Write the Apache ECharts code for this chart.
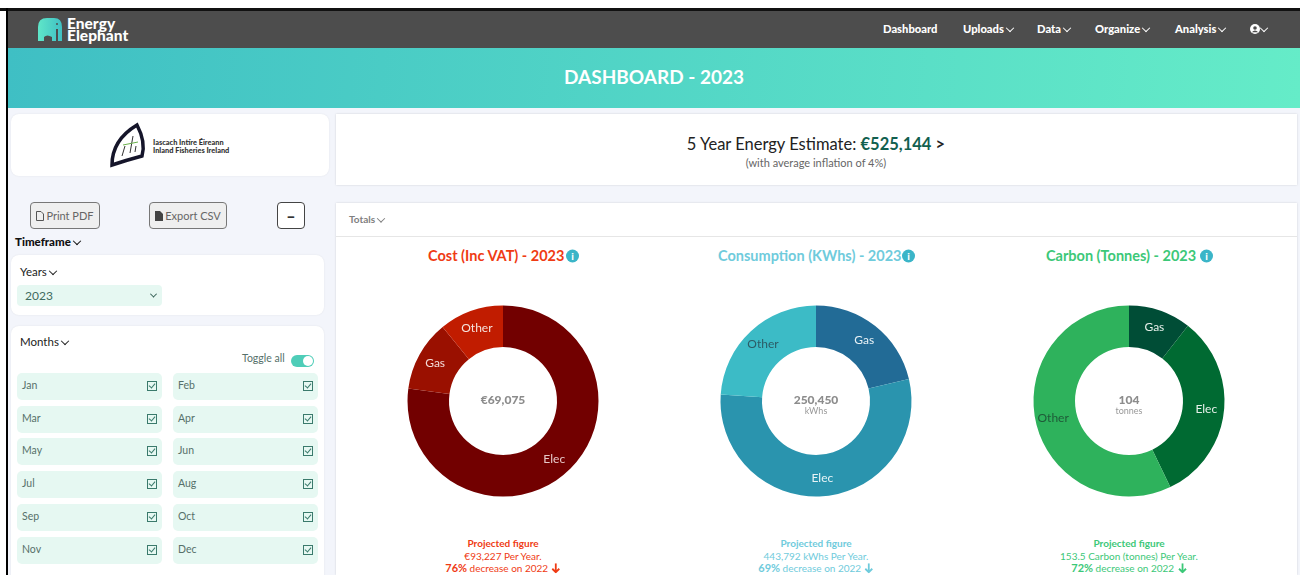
<!DOCTYPE html>
<html lang="en" style="height: 100%">
<head>
<meta charset="utf-8">
<style>
  html, body { margin: 0; height: 100%; background: #fff; overflow: hidden; font-family: Lato, "Noto Sans", sans-serif; }
  #page { position: absolute; left: 8px; top: 11px; width: 1292px; height: 564px; background: #f3f5fb; }
  .abs { position: absolute; }
  .t { position: absolute; white-space: nowrap; transform: translateY(calc(-50% - 1px)); }
  .c { position: absolute; white-space: nowrap; transform: translate(-50%, calc(-50% - 1px)); text-align: center; }
  .card { position: absolute; background: #fff; border-radius: 8px; box-shadow: 0 0 2px rgba(0,0,0,0.08); }
  .chev { display: inline-block; width: 5px; height: 5px; border-right: 1.5px solid currentColor; border-bottom: 1.5px solid currentColor; transform: rotate(45deg) translate(-1px, -1px); margin-left: 3px; }
  .btn { position: absolute; box-sizing: border-box; border: 1px solid #777; border-radius: 4px; background: #efefef; color: #666; font-size: 11px; display: flex; align-items: center; justify-content: center; gap: 2px; }
  .tile { position: absolute; width: 145px; height: 27px; background: #e6f8f2; border-radius: 5px; color: #56706a; font-size: 10.5px; }
  .tile span { position: absolute; left: 5px; top: 6px; }
  .tile i { position: absolute; left: 130px; top: 8px; width: 8px; height: 8px; border: 1.5px solid #3a7a6c; }
  .tile i::after { content: ""; position: absolute; left: 2px; top: 0px; width: 3px; height: 5px; border-right: 1.5px solid #3a7a6c; border-bottom: 1.5px solid #3a7a6c; transform: rotate(40deg); }
  .nav { color: #fff; font-size: 11.2px; font-weight: 900; top: 29px; }
  .info { position: absolute; width: 13px; height: 13px; border-radius: 50%; background: #3bb5c8; color: #fff; font-size: 10px; font-weight: 900; line-height: 13px; text-align: center; transform: translateY(-50%); }
  .h { font-size: 14.5px; font-weight: 700; top: 256px; }
  .p { font-size: 10px; line-height: 12.5px; }
  .arrow { vertical-align: -1px; margin-left: 1px; }
  #chart { position: absolute; left: 0; top: 0; width: 1300px; height: 575px; }
</style>
</head>
<body>
  <div class="abs" style="left:0;top:8px;width:1300px;height:3px;background:#111"></div>
  <div class="abs" style="left:6px;top:8px;width:2px;height:567px;background:#000"></div>
  <div id="page"></div>
  <div class="abs" style="left:8px;top:11px;width:1292px;height:37px;background:#4d4d4d"></div>
  <div class="abs" style="left:8px;top:48px;width:1292px;height:60px;background:linear-gradient(95deg,#3fbfc4,#65ecc8)"></div>

  <svg class="abs" style="left:37px;top:17px" width="26" height="25" viewBox="0 0 26 25">
    <defs><linearGradient id="eg" x1="0" x2="1"><stop offset="0" stop-color="#5fe6c8"/><stop offset="1" stop-color="#40c0c4"/></linearGradient></defs>
    <path d="M1 24V10Q1 1 10 1H17Q25 1 25 10V24H21V12H19V24H15V20Q10 17 7 20V24Z" fill="url(#eg)"/>
    <circle cx="20" cy="7" r="1" fill="#4d4d4d"/>
  </svg>
  <div class="abs" style="left:67px;top:18px;color:#fff;font-size:15.5px;font-weight:900;line-height:11.5px">Energy<br>Elephant</div>
  <div class="t nav" style="left:883px">Dashboard</div>
  <div class="t nav" style="left:963px">Uploads<span class="chev"></span></div>
  <div class="t nav" style="left:1037px">Data<span class="chev"></span></div>
  <div class="t nav" style="left:1095px">Organize<span class="chev"></span></div>
  <div class="t nav" style="left:1175px">Analysis<span class="chev"></span></div>
  <svg class="abs" style="left:1250px;top:24px" width="10" height="10" viewBox="0 0 10 10">
    <circle cx="5" cy="5" r="5" fill="#fff"/><circle cx="5" cy="4" r="1.8" fill="#4d4d4d"/><path d="M1.8 8.2Q5 5 8.2 8.2Z" fill="#4d4d4d"/>
  </svg>
  <div class="t nav" style="left:1258px"><span class="chev"></span></div>
  <div class="c" style="left:654px;top:77px;color:#fff;font-size:19px;font-weight:700">DASHBOARD - 2023</div>

  <div class="card" style="left:11px;top:114px;width:318px;height:62px"></div>
  <svg class="abs" style="left:109px;top:122px" width="40" height="46" viewBox="0 0 40 46">
    <path d="M3 43Q3 18 28 3Q37 20 33 34Q18 38 3 43Z" fill="#fff" stroke="#15152a" stroke-width="3.5"/>
    <path d="M13 34L16 24M21 31L24 14M26 30L27 24" stroke="#333" stroke-width="1"/>
    <path d="M14 23L29 20" stroke="#6ab04c" stroke-width="1"/>
  </svg>
  <div class="abs" style="left:153px;top:139px;color:#333;font-size:7.4px;font-weight:900;line-height:8px;white-space:nowrap">Iascach Intíre Éireann<br>Inland Fisheries Ireland</div>

  <div class="btn" style="left:30px;top:202px;width:70px;height:27px">
    <svg width="8" height="10" viewBox="0 0 8 10"><path d="M.5.5H5L7.5 3V9.500H.5Z" fill="none" stroke="#555"/></svg>Print PDF</div>
  <div class="btn" style="left:149px;top:202px;width:78px;height:27px">
    <svg width="8" height="10" viewBox="0 0 8 10"><path d="M0 0H5L8 3V10H0Z" fill="#444"/></svg>Export CSV</div>
  <div class="btn" style="left:277px;top:202px;width:28px;height:27px;background:#fff;border-color:#444;color:#333;font-weight:900;font-size:16px">&#8211;</div>
  <div class="t" style="left:15px;top:242px;font-size:11.5px;font-weight:900;color:#111">Timeframe<span class="chev"></span></div>

  <div class="card" style="left:11px;top:255px;width:313px;height:60px"></div>
  <div class="t" style="left:20px;top:272px;font-size:11.5px;color:#222">Years<span class="chev"></span></div>
  <div class="abs" style="left:17px;top:285px;width:145px;height:21px;background:#e6f8f2;border-radius:4px"></div>
  <div class="t" style="left:25px;top:296px;font-size:12px;color:#3f6b60">2023</div>
  <div class="t" style="left:151px;top:295px;font-size:10px;color:#2f5a50"><span class="chev" style="margin:0;width:4px;height:4px"></span></div>

  <div class="card" style="left:11px;top:326px;width:313px;height:260px"></div>
  <div class="t" style="left:20px;top:342px;font-size:11.5px;color:#222">Months<span class="chev"></span></div>
  <div class="t" style="left:242px;top:359px;font-size:10.5px;color:#56706a">Toggle all</div>
  <div class="abs" style="left:291px;top:355px;width:23px;height:12px;border-radius:6px;background:#4fcdb8"></div>
  <div class="abs" style="left:303px;top:356px;width:10px;height:10px;border-radius:5px;background:#fff"></div>
  <div id="months"></div>

  <div class="abs" style="left:336px;top:114px;width:961px;height:71px;background:#fff;box-shadow:0 0 2px rgba(0,0,0,0.15)"></div>
  <div class="c" style="left:816px;top:145px;font-size:16.5px;color:#222">5 Year Energy Estimate: <b style="color:#11604f">€525,144</b> <b>&gt;</b></div>
  <div class="c" style="left:816px;top:163px;font-size:11px;color:#666">(with average inflation of 4%)</div>

  <div class="abs" style="left:336px;top:203px;width:961px;height:372px;background:#fff;box-shadow:0 0 2px rgba(0,0,0,0.15)"></div>
  <div class="abs" style="left:336px;top:236px;width:961px;height:1px;background:#e6e6e6"></div>
  <div class="t" style="left:349px;top:220px;font-size:10px;font-weight:700;color:#808080">Totals<span class="chev"></span></div>

  <div class="t h" style="left:428px;color:#ef3b14">Cost (Inc VAT) - 2023</div>
  <div class="info" style="left:566px;top:256px">i</div>
  <div class="t h" style="left:718px;color:#6fcbdc">Consumption (KWhs) - 2023</div>
  <div class="info" style="left:902px;top:256px">i</div>
  <div class="t h" style="left:1046px;color:#3cc878">Carbon (Tonnes) - 2023</div>
  <div class="info" style="left:1200px;top:256px">i</div>

  <div class="c p" style="left:503px;top:557px;color:#ef3b14"><b>Projected figure</b><br>€93,227 Per Year.<br><b style="font-size:11px">76%</b> decrease on 2022 <svg class="arrow" width="9" height="10" viewBox="0 0 9 10"><path d="M4.500 0V9M1 5.500L4.500 9L8 5.500" fill="none" stroke="currentColor" stroke-width="1.800"/></svg></div>
  <div class="c p" style="left:816px;top:557px;color:#6fcbdc"><b>Projected figure</b><br>443,792 kWhs Per Year.<br><b style="font-size:11px">69%</b> decrease on 2022 <svg class="arrow" width="9" height="10" viewBox="0 0 9 10"><path d="M4.500 0V9M1 5.500L4.500 9L8 5.500" fill="none" stroke="currentColor" stroke-width="1.800"/></svg></div>
  <div class="c p" style="left:1129px;top:557px;color:#3cc878"><b>Projected figure</b><br>153.5 Carbon (tonnes) Per Year.<br><b style="font-size:11px">72%</b> decrease on 2022 <svg class="arrow" width="9" height="10" viewBox="0 0 9 10"><path d="M4.500 0V9M1 5.500L4.500 9L8 5.500" fill="none" stroke="currentColor" stroke-width="1.800"/></svg></div>

  <div id="chart"></div>

  <script src="https://cdn.jsdelivr.net/npm/echarts@6/dist/echarts.min.js"></script>
  <script type="text/javascript">
    const monthNames = ['Jan', 'Feb', 'Mar', 'Apr', 'May', 'Jun', 'Jul', 'Aug', 'Sep', 'Oct', 'Nov', 'Dec'];

    const costNames = ['Elec', 'Gas', 'Other'];
    const costValues = [53260, 8290, 7525];
    const costColors = ['#720000', '#9a1000', '#c11c00'];
    const costTotal = '€69,075';

    const kwhNames = ['Gas', 'Elec', 'Other'];
    const kwhValues = [53350, 137250, 59850];
    const kwhColors = ['#226b96', '#2a94ae', '#3cbbc6'];
    const kwhTotal = '250,450';

    const carbonNames = ['Gas', 'Elec', 'Other'];
    const carbonValues = [11, 33.6, 59.4];
    const carbonColors = ['#004d36', '#006a32', '#2eb25c'];
    const carbonTotal = '104';

    // month tiles in the sidebar
    let html = '';
    monthNames.forEach(function (m, i) {
      const x = i % 2 ? 173 : 17;
      const y = 373 + Math.floor(i / 2) * 32.7;
      html += '<div class="tile" style="left:' + x + 'px;top:' + y + 'px"><span>' + m + '</span><i></i></div>';
    });
    document.getElementById('months').innerHTML = html;

    function donut(cx, names, values, colors, labelColors) {
      return {
        type: 'pie',
        center: [cx, 401],
        radius: [54, 95.5],
        startAngle: 90,
        clockwise: true,
        silent: true,
        label: { position: 'inside', formatter: '{b}', fontFamily: 'Lato', fontSize: 12 },
        labelLine: { show: false },
        data: names.map(function (n, i) {
          return {
            name: n,
            value: values[i],
            itemStyle: { color: colors[i] },
            label: { color: labelColors[i] }
          };
        })
      };
    }

    function centerText(x, text, sub) {
      return {
        text: text,
        subtext: sub,
        left: x,
        top: 394,
        padding: 0,
        textAlign: 'center',
        itemGap: 1,
        textStyle: { fontFamily: 'Lato', fontSize: 12, fontWeight: 900, color: '#8c8c8c' },
        subtextStyle: { fontFamily: 'Lato', fontSize: 9, color: '#999' }
      };
    }

    const myChart = echarts.init(document.getElementById('chart'), null, { renderer: 'canvas' });
    const option = {
      animation: false,
      backgroundColor: 'transparent',
      title: [
        centerText(503, costTotal, ''),
        centerText(816, kwhTotal, 'kWhs'),
        centerText(1129, carbonTotal, 'tonnes')
      ],
      series: [
        donut(503, costNames, costValues, costColors, ['#e6c8c8', '#f3dcd8', '#f5e2dc']),
        donut(816, kwhNames, kwhValues, kwhColors, ['#e8f2f6', '#e8f4f6', '#2c5c66']),
        donut(1129, carbonNames, carbonValues, carbonColors, ['#e6f0ea', '#e6f0ea', '#1f5a38'])
      ]
    };
    myChart.setOption(option);
    window.addEventListener('resize', myChart.resize);
  </script>
</body>
</html>
